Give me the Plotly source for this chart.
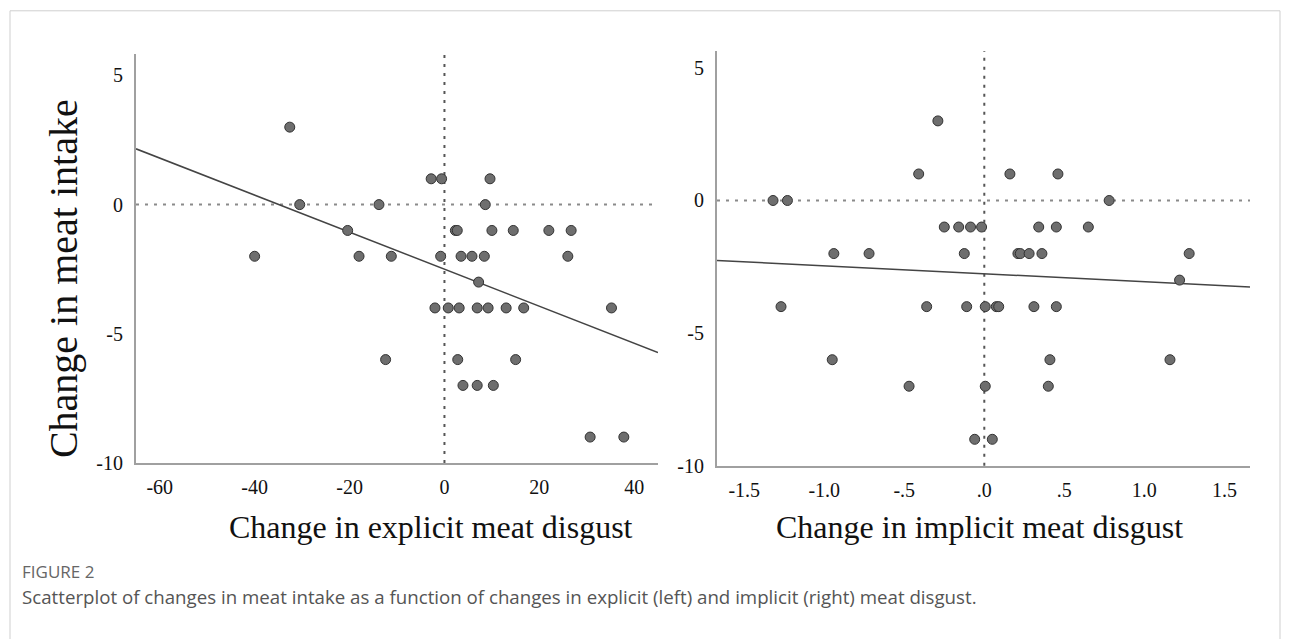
import numpy as np
import plotly.graph_objects as go

# ---------------- data ----------------
# Left panel: change in explicit meat disgust vs change in meat intake
explicit_x = [-32.6, -30.5, -13.8, -20.4, -40.0, -18.0, -11.2,
              -2.8, -0.6, 9.6, 8.6,
              2.3, 2.7, 10.0, 14.5, 22.0, 26.7,
              -0.8, 3.5, 5.8, 8.4, 26.0,
              7.2,
              -2.0, 0.8, 3.1, 6.9, 9.2, 13.0, 16.7, 35.2,
              -12.4, 2.8, 15.0,
              3.9, 6.9, 10.3,
              30.7, 37.8]
explicit_y = [3, 0, 0, -1, -2, -2, -2,
              1, 1, 1, 0,
              -1, -1, -1, -1, -1, -1,
              -2, -2, -2, -2, -2,
              -3,
              -4, -4, -4, -4, -4, -4, -4, -4,
              -6, -6, -6,
              -7, -7, -7,
              -9, -9]

# Right panel: change in implicit meat disgust vs change in meat intake
implicit_x = [-0.29, -0.41, 0.16, 0.46, -1.32, -1.23, 0.78,
              -0.25, -0.16, -0.086, -0.017, 0.34, 0.45, 0.65,
              -0.94, -0.72, -0.125, 0.21, 0.225, 0.28, 0.36, 1.28,
              1.22,
              -1.27, -0.36, -0.11, 0.006, 0.075, 0.09, 0.31, 0.45,
              -0.95, 0.41, 1.16,
              -0.47, 0.006, 0.40,
              -0.06, 0.05]
implicit_y = [3, 1, 1, 1, 0, 0, 0,
              -1, -1, -1, -1, -1, -1, -1,
              -2, -2, -2, -2, -2, -2, -2, -2,
              -3,
              -4, -4, -4, -4, -4, -4, -4, -4,
              -6, -6, -6,
              -7, -7, -7,
              -9, -9]

# Fit lines (intercept, slope)
fit_explicit = (-2.50, -0.0717)
fit_implicit = (-2.76, -0.300)

# Axis ranges and tick labels
x1_range = [-65, 45]
x2_range = [-1.67, 1.66]
y1_range = [-10, 5.83]
y2_range = [-10, 5.63]
x1_ticks = [-60, -40, -20, 0, 20, 40]
x1_text = ["-60", "-40", "-20", "0", "20", "40"]
x2_ticks = [-1.5, -1.0, -0.5, 0.0, 0.5, 1.0, 1.5]
x2_text = ["-1.5", "-1.0", "-.5", ".0", ".5", "1.0", "1.5"]
y_ticks = [5, 0, -5, -10]
y_text = ["5", "0", "-5", "-10"]

y_title = "Change in meat intake"
x1_title = "Change in explicit meat disgust"
x2_title = "Change in implicit meat disgust"
caption_label = "FIGURE 2"
caption_text = ("Scatterplot of changes in meat intake as a function of changes in "
                "explicit (left) and implicit (right) meat disgust.")

# ---------------- figure ----------------
W, H = 1290, 639
SERIF = "Liberation Serif, Times New Roman, serif"

def px(x):
    return x / W

def py(y):
    return 1 - y / H

marker = dict(size=10, color="#6e6e6e", line=dict(color="#333333", width=1))

fig = go.Figure()

# fit lines
xs1 = np.array(x1_range, dtype=float)
fig.add_trace(go.Scatter(x=xs1, y=fit_explicit[0] + fit_explicit[1] * xs1,
                         mode="lines", line=dict(color="#444444", width=1.5),
                         xaxis="x", yaxis="y", showlegend=False, hoverinfo="skip"))
xs2 = np.array(x2_range, dtype=float)
fig.add_trace(go.Scatter(x=xs2, y=fit_implicit[0] + fit_implicit[1] * xs2,
                         mode="lines", line=dict(color="#444444", width=1.5),
                         xaxis="x2", yaxis="y2", showlegend=False, hoverinfo="skip"))

# points
fig.add_trace(go.Scatter(x=explicit_x, y=explicit_y, mode="markers", marker=marker,
                         xaxis="x", yaxis="y", showlegend=False))
fig.add_trace(go.Scatter(x=implicit_x, y=implicit_y, mode="markers", marker=marker,
                         xaxis="x2", yaxis="y2", showlegend=False))

# reference lines at zero
shapes = []
for xr, yr in (("x", "y"), ("x2", "y2")):
    shapes.append(dict(type="line", xref=xr + " domain", yref=yr, x0=0, x1=1, y0=0, y1=0,
                       line=dict(color="#8a8a8a", width=2, dash="3px,6px"), layer="below"))
    shapes.append(dict(type="line", xref=xr, yref=yr + " domain", x0=0, x1=0, y0=0, y1=1,
                       line=dict(color="#555555", width=2, dash="3px,6px"), layer="below"))
# outer frame
shapes.append(dict(type="rect", xref="paper", yref="paper",
                   x0=px(10), x1=px(1280), y0=-0.2, y1=py(11),
                   line=dict(color="#cfcfcf", width=1), layer="below"))

axis_common = dict(showgrid=False, zeroline=False, showline=True, linecolor="#a0a0a0",
                   linewidth=2, ticks="outside", tickcolor="rgba(0,0,0,0)",
                   tickfont=dict(family=SERIF, size=20, color="#111111"), fixedrange=True)

fig.update_layout(
    width=W, height=H,
    margin=dict(l=0, r=0, t=0, b=0),
    paper_bgcolor="white", plot_bgcolor="white",
    xaxis=dict(domain=[px(136), px(658)], range=x1_range, tickvals=x1_ticks,
               ticktext=x1_text, anchor="y", ticklen=5, **axis_common),
    yaxis=dict(domain=[py(471), py(55)], range=y1_range, tickvals=y_ticks,
               ticktext=y_text, anchor="x", ticklen=7, **axis_common),
    xaxis2=dict(domain=[px(717), px(1250)], range=x2_range, tickvals=x2_ticks,
                ticktext=x2_text, anchor="y2", ticklen=5, **axis_common),
    yaxis2=dict(domain=[py(474), py(52)], range=y2_range, tickvals=y_ticks,
                ticktext=y_text, anchor="x2", ticklen=7, **axis_common),
    shapes=shapes,
    annotations=[
        dict(text=y_title, xref="paper", yref="paper", x=px(63), y=py(284),
             textangle=-90, showarrow=False, xanchor="center", yanchor="middle",
             font=dict(family=SERIF, size=40, color="#111111")),
        dict(text=x1_title, xref="paper", yref="paper", x=px(431), y=py(536),
             showarrow=False, xanchor="center", yanchor="middle",
             font=dict(family=SERIF, size=32, color="#111111")),
        dict(text=x2_title, xref="paper", yref="paper", x=px(979), y=py(536),
             showarrow=False, xanchor="center", yanchor="middle",
             font=dict(family=SERIF, size=32, color="#111111")),
        dict(text=caption_label, xref="paper", yref="paper", x=px(20), y=py(582),
             showarrow=False, xanchor="left", yanchor="middle",
             font=dict(family="Open Sans, sans-serif", size=17, color="#666666")),
        dict(text=caption_text, xref="paper", yref="paper", x=px(20), y=py(607),
             showarrow=False, xanchor="left", yanchor="middle",
             font=dict(family="Open Sans, sans-serif", size=18.7, color="#555555")),
    ],
)

fig.write_html("out.html", config={"displayModeBar": False},
               post_script="document.body.style.margin='0';document.body.style.overflow='hidden';")
